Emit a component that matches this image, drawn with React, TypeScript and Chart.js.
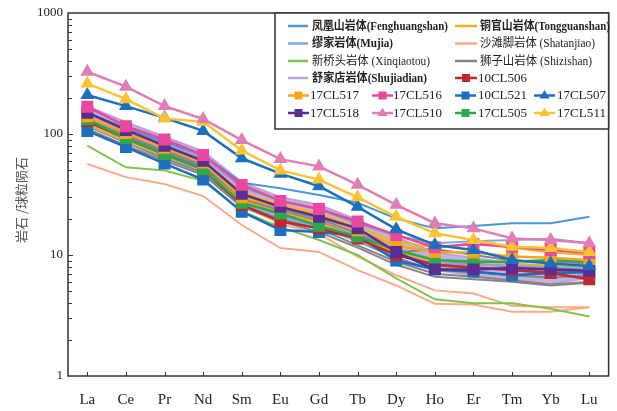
import React, { useEffect, useRef } from 'react';
import { Chart, registerables } from 'chart.js';

Chart.register(...registerables);

// ---------- Data ----------
const ELEMENTS = ['La', 'Ce', 'Pr', 'Nd', 'Sm', 'Eu', 'Gd', 'Tb', 'Dy', 'Ho', 'Er', 'Tm', 'Yb', 'Lu'];
const Y_LABELS = [1, 10, 100, 1000];

// samples
const s17CL510 = [327, 246, 170, 133, 89, 62, 54, 38, 26, 18.3, 16.6, 13.7, 13.3, 12.5];
const s17CL511 = [262, 194, 134, 126, 73, 50, 42, 30, 20.7, 15.1, 13.3, 11.7, 11.4, 10.6];
const s17CL507 = [210, 170, 136, 106, 63, 47, 37, 25, 16.3, 12.1, 11, 9.1, 8.5, 8.1];
const s17CL516 = [168, 116, 90, 67, 38, 28, 24, 18.9, 14.6, 11.6, 12.3, 11.7, 11, 10.4];
const s17CL517 = [140, 102, 77, 58, 30, 25, 21, 16, 12, 10.6, 10.5, 9.7, 9.5, 9.1];
const s17CL518 = [150, 108, 80, 60, 32, 25, 20.7, 16.6, 10.6, 7.6, 7.6, 7.8, 7.6, 7.4];
const s17CL505 = [132, 92, 68, 51, 27, 22, 17.4, 14.2, 11, 9.1, 8.8, 8.8, 9.1, 8.8];
const s10CL506 = [128, 92, 68, 51, 26, 19, 16.6, 13.7, 10, 8.3, 7.9, 7.5, 7.1, 6.3];
const s10CL521 = [106, 78, 57, 42, 22.8, 16.1, 15.5, 14.4, 9, 7.6, 7.3, 6.8, 7.1, 7.2];

// intrusion fields
const fenghuangshan = [150, 112, 86, 67, 39.6, 35.6, 31.3, 27, 20, 16.6, 17.4, 18.3, 18.3, 20.7];
const mujia1 = [150, 110, 84, 64, 36, 28, 24, 18, 14.5, 12.5, 13, 13.3, 13.6, 12.5];
const mujia2 = [118, 86, 65, 50, 27, 21, 17, 13, 10, 8.5, 8.3, 8.2, 8, 8];
const tongguanshan1 = [140, 102, 78, 60, 33, 26, 22, 17, 13, 11.5, 12.5, 11.5, 10.5, 10];
const tongguanshan2 = [120, 88, 66, 51, 28, 22.5, 18.5, 14, 10.5, 9, 8.8, 8.5, 8.2, 8.2];
const shizishan1 = [132, 96, 73, 55, 30, 23, 19, 14, 10.5, 8.2, 7.8, 7.5, 7.2, 7.3];
const shizishan2 = [124, 90, 68, 52, 28, 21.5, 17.5, 13, 9.5, 7.5, 7.2, 6.8, 6.5, 6.8];
const shizishan3 = [116, 85, 63, 48, 26, 20, 16.5, 12, 8.8, 7, 6.6, 6.2, 5.7, 6.0];
const shizishan4 = [110, 80, 60, 46, 25, 19, 15.5, 11.5, 8.3, 6.6, 6.3, 6, 5.6, 5.9];
const shizishan5 = [140, 100, 77, 58, 32, 24, 20, 15, 11, 9, 8.5, 8, 7.8, 7.5];
const shizishan6 = [128, 93, 70, 53, 29, 22.5, 18.5, 14, 10.5, 11.2, 10, 9, 8.8, 8.5];
const shujiadianUpper = [170, 125, 95, 72, 40, 30, 26, 19.5, 14, 10.5, 9.5, 8.5, 8, 8.2];
const shujiadianLower = [128, 95, 72, 55, 30, 23, 19, 14.5, 10.5, 7.5, 6.8, 6.0, 5.8, 6.5];
const xinqiaotou = [80, 53, 50, 41, 23, 17, 13.3, 10, 6.4, 4.3, 4.0, 4.0, 3.6, 3.1];
const shatanjiao1 = [56.5, 44, 38.6, 30.7, 17.7, 11.4, 10.6, 7.5, 5.6, 3.95, 3.9, 3.4, 3.4, 3.7];
const shatanjiao2 = [110, 80, 62, 47, 26, 18, 15, 9.7, 6.8, 5.1, 4.8, 3.8, 3.7, 3.7];

// ---------- Colours ----------
const C = {
  fenghuangshan: '#4a96d6',
  mujia: '#82a7e0',
  xinqiaotou: '#84c24b',
  shujiadian: '#b9a4da',
  tongguanshan: '#f6b21a',
  shatanjiao: '#f8ab88',
  shizishan: '#858585',
  s10CL506: '#c1272d',
  s17CL517: '#f7a520',
  s17CL516: '#e8489d',
  s10CL521: '#1a6fc0',
  s17CL507: '#1a6fc0',
  s17CL518: '#5c2d91',
  s17CL510: '#e07db6',
  s17CL505: '#2ea84c',
  s17CL511: '#fdc232',
};

const SERIF = "'Liberation Serif', 'Times New Roman', 'Noto Sans CJK SC', serif";

function sample(label: string, data: number[], color: string, style: string) {
  return {
    label,
    data,
    borderColor: color,
    backgroundColor: color,
    borderWidth: 2.5,
    pointStyle: style,
    pointRadius: style === 'triangle' ? 8 : 8.4,
    pointBorderWidth: 0,
    pointBackgroundColor: color,
    fill: false,
    tension: 0,
  };
}

function field(label: string, data: number[], color: string, extra: any = {}) {
  return {
    label,
    data,
    borderColor: color,
    backgroundColor: color,
    borderWidth: 2,
    pointRadius: 0,
    fill: false,
    tension: 0,
    ...extra,
  };
}

type LegendItem = { text: string; color: string; kind: 'line' | 'rect' | 'triangle'; bold?: boolean };

const LEGEND_ROWS_FIELDS: [LegendItem, LegendItem | null][] = [
  [
    { text: '凤凰山岩体(Fenghuangshan)', color: C.fenghuangshan, kind: 'line', bold: true },
    { text: '铜官山岩体(Tongguanshan)', color: C.tongguanshan, kind: 'line', bold: true },
  ],
  [
    { text: '缪家岩体(Mujia)', color: C.mujia, kind: 'line', bold: true },
    { text: '沙滩脚岩体 (Shatanjiao)', color: C.shatanjiao, kind: 'line' },
  ],
  [
    { text: '新桥头岩体 (Xinqiaotou)', color: C.xinqiaotou, kind: 'line' },
    { text: '狮子山岩体 (Shizishan)', color: C.shizishan, kind: 'line' },
  ],
  [
    { text: '舒家店岩体(Shujiadian)', color: C.shujiadian, kind: 'line', bold: true },
    { text: '10CL506', color: C.s10CL506, kind: 'rect' },
  ],
];
const LEGEND_ROWS_SAMPLES: LegendItem[][] = [
  [
    { text: '17CL517', color: C.s17CL517, kind: 'rect' },
    { text: '17CL516', color: C.s17CL516, kind: 'rect' },
    { text: '10CL521', color: C.s10CL521, kind: 'rect' },
    { text: '17CL507', color: C.s17CL507, kind: 'triangle' },
  ],
  [
    { text: '17CL518', color: C.s17CL518, kind: 'rect' },
    { text: '17CL510', color: C.s17CL510, kind: 'triangle' },
    { text: '17CL505', color: C.s17CL505, kind: 'rect' },
    { text: '17CL511', color: C.s17CL511, kind: 'triangle' },
  ],
];

function drawFittedText(ctx: CanvasRenderingContext2D, text: string, x: number, y: number, font: string, target?: number) {
  ctx.font = font;
  const w = ctx.measureText(text).width;
  ctx.save();
  ctx.translate(x, y);
  if (target && w > 0) {
    const s = Math.max(0.8, Math.min(1.25, target / w));
    ctx.scale(s, 1);
  }
  ctx.fillText(text, 0, 0);
  ctx.restore();
}

function drawLegendSymbol(ctx: CanvasRenderingContext2D, item: LegendItem, x0: number, y: number, len: number) {
  ctx.strokeStyle = item.color;
  ctx.fillStyle = item.color;
  ctx.lineWidth = 2.5;
  ctx.beginPath();
  ctx.moveTo(x0, y);
  ctx.lineTo(x0 + len, y);
  ctx.stroke();
  const cx = x0 + len / 2;
  if (item.kind === 'rect') {
    ctx.fillRect(cx - 4, y - 4, 8, 8);
  } else if (item.kind === 'triangle') {
    ctx.beginPath();
    ctx.moveTo(cx, y - 5.5);
    ctx.lineTo(cx + 5, y + 3);
    ctx.lineTo(cx - 5, y + 3);
    ctx.closePath();
    ctx.fill();
  }
}

const decorPlugin = {
  id: 'decor',
  afterDraw(chart: any) {
    const { ctx, chartArea: a, scales } = chart;
    const xs = scales.x;
    const ys = scales.y;
    ctx.save();
    // frame
    ctx.strokeStyle = '#333';
    ctx.lineWidth = 1.5;
    ctx.strokeRect(a.left, a.top, a.right - a.left, a.bottom - a.top);
    // inward ticks on y
    ctx.lineWidth = 1;
    for (let d = 1; d < 1000; d *= 10) {
      for (let m = 1; m <= 9; m++) {
        const v = d * m;
        if (v === 1) continue;
        const py = Math.round(ys.getPixelForValue(v)) + 0.5;
        const len = m === 1 ? 5 : 4;
        ctx.beginPath();
        ctx.moveTo(a.left, py);
        ctx.lineTo(a.left + len, py);
        ctx.stroke();
      }
    }
    // inward ticks on x
    ELEMENTS.forEach((_, i) => {
      const px = Math.round(xs.getPixelForValue(i)) + 0.5;
      ctx.beginPath();
      ctx.moveTo(px, a.bottom);
      ctx.lineTo(px, a.bottom - 4);
      ctx.stroke();
    });

    // y-axis title
    ctx.save();
    ctx.translate(21, 200);
    ctx.rotate(-Math.PI / 2);
    ctx.fillStyle = '#555';
    ctx.textAlign = 'center';
    ctx.textBaseline = 'middle';
    ctx.font = "13px 'Noto Sans CJK SC'";
    ctx.fillText('岩石 /球粒陨石', 0, 0);
    ctx.restore();

    // legend box
    const bx = 275, by = a.top, bw = a.right - 275, bh = 129 - a.top;
    ctx.fillStyle = '#fff';
    ctx.fillRect(bx, by, bw, bh);
    ctx.strokeStyle = '#333';
    ctx.lineWidth = 1.5;
    ctx.strokeRect(bx, by, bw, bh);

    const rowsY = [26, 43.5, 61, 78, 95.5, 113];
    const fieldWidths = [
      [136, 130],
      [81, 115],
      [118, 112],
      [115, 49],
    ];
    ctx.textAlign = 'left';
    ctx.textBaseline = 'middle';
    LEGEND_ROWS_FIELDS.forEach((row, r) => {
      const y = rowsY[r];
      const [left, right] = row;
      drawLegendSymbol(ctx, left, 288, y, 20);
      ctx.fillStyle = '#222';
      drawFittedText(ctx, left.text, 312, y + 0.5, `${left.bold ? 'bold ' : ''}12px ${SERIF}`, fieldWidths[r][0]);
      if (right) {
        drawLegendSymbol(ctx, right, 455, y, 22);
        ctx.fillStyle = '#222';
        const tx = right.kind === 'line' ? 480 : 478;
        const font = right.kind === 'line' ? `${right.bold ? 'bold ' : ''}12px ${SERIF}` : `13px ${SERIF}`;
        drawFittedText(ctx, right.text, tx, y + 0.5, font, fieldWidths[r][1]);
      }
    });
    const colLine = [288, 372, 455, 534];
    const colText = [310, 393, 478, 557];
    LEGEND_ROWS_SAMPLES.forEach((row, r) => {
      const y = rowsY[4 + r];
      row.forEach((item, c) => {
        drawLegendSymbol(ctx, item, colLine[c], y, 21);
        ctx.fillStyle = '#222';
        drawFittedText(ctx, item.text, colText[c], y + 0.5, `13px ${SERIF}`, 49);
      });
    });
    ctx.restore();
  },
};

export default function App() {
  const ref = useRef<HTMLCanvasElement | null>(null);

  useEffect(() => {
    const canvas = ref.current;
    if (!canvas) return;
    const datasets: any[] = [
      sample('17CL510', s17CL510, C.s17CL510, 'triangle'),
      sample('17CL511', s17CL511, C.s17CL511, 'triangle'),
      sample('17CL507', s17CL507, C.s17CL507, 'triangle'),
      sample('17CL516', s17CL516, C.s17CL516, 'rect'),
      sample('17CL518', s17CL518, C.s17CL518, 'rect'),
      sample('17CL517', s17CL517, C.s17CL517, 'rect'),
      sample('17CL505', s17CL505, C.s17CL505, 'rect'),
      sample('10CL506', s10CL506, C.s10CL506, 'rect'),
      sample('10CL521', s10CL521, C.s10CL521, 'rect'),
      field('凤凰山岩体', fenghuangshan, C.fenghuangshan),
      field('铜官山岩体', tongguanshan1, C.tongguanshan),
      field('铜官山岩体', tongguanshan2, C.tongguanshan),
      field('缪家岩体', mujia1, C.mujia),
      field('缪家岩体', mujia2, C.mujia),
      field('狮子山岩体', shizishan1, C.shizishan),
      field('狮子山岩体', shizishan2, C.shizishan),
      field('狮子山岩体', shizishan3, C.shizishan),
      field('狮子山岩体', shizishan4, C.shizishan),
      field('狮子山岩体', shizishan5, C.shizishan),
      field('狮子山岩体', shizishan6, C.shizishan),
      field('舒家店岩体', shujiadianUpper, C.shujiadian, { fill: '+1', backgroundColor: 'rgba(185,164,218,0.85)' }),
      field('舒家店岩体', shujiadianLower, C.shujiadian),
      field('新桥头岩体', xinqiaotou, C.xinqiaotou),
      field('沙滩脚岩体', shatanjiao1, C.shatanjiao),
      field('沙滩脚岩体', shatanjiao2, C.shatanjiao),
    ];

    const tickFont = { family: SERIF, size: 13 };
    const chart = new Chart(canvas, {
      type: 'line',
      data: { labels: ELEMENTS, datasets },
      options: {
        responsive: false,
        animation: false,
        maintainAspectRatio: false,
        layout: { padding: { left: 0, top: 13, right: 4, bottom: 0 } },
        plugins: {
          legend: { display: false },
          tooltip: { enabled: false },
        },
        scales: {
          x: {
            type: 'category',
            offset: true,
            grid: { display: false, drawTicks: false },
            border: { display: false },
            ticks: {
              font: { family: SERIF, size: 15 },
              color: '#222',
              padding: 15,
              maxRotation: 0,
              autoSkip: false,
            },
            afterFit: (s: any) => {
              s.height = 35;
            },
          },
          y: {
            type: 'logarithmic',
            min: 1,
            max: 1000,
            grid: { display: false, drawTicks: false },
            border: { display: false },
            ticks: {
              font: tickFont,
              color: '#222',
              padding: 5,
              autoSkip: false,
              callback: (v: any) => (Y_LABELS.includes(Number(v)) ? String(v) : ''),
            },
            afterFit: (s: any) => {
              s.width = 68;
            },
          },
        },
      },
      plugins: [decorPlugin],
    });
    return () => chart.destroy();
  }, []);

  return (
    <div style={{ position: 'fixed', left: 0, top: 0, width: 617, height: 411, background: '#fff' }}>
      <canvas ref={ref} width={617} height={411} style={{ display: 'block', width: 617, height: 411 }} />
    </div>
  );
}
